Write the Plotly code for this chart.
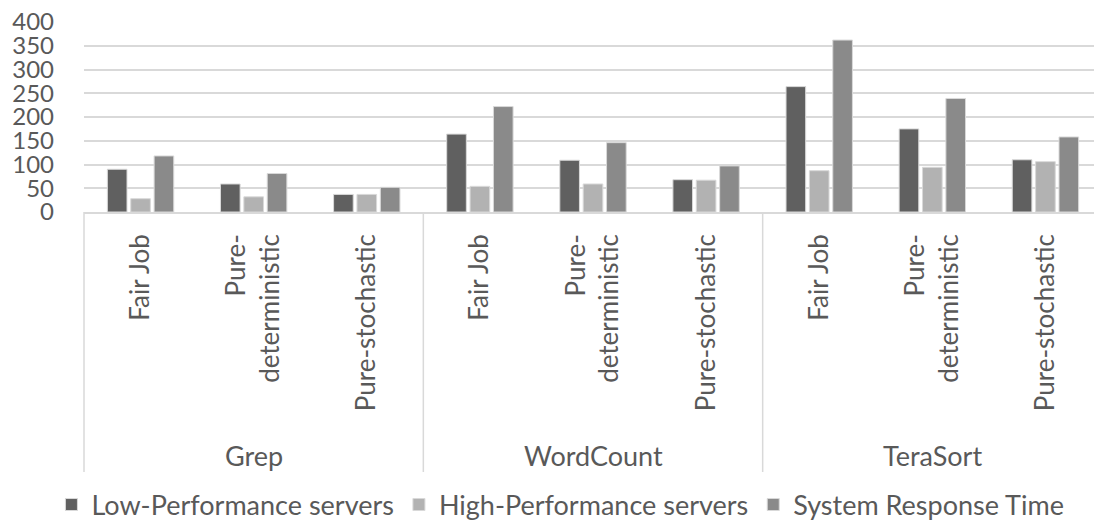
import plotly.graph_objects as go

groups = ["Grep", "WordCount", "TeraSort"]
policies = ["Fair Job", "Pure-<br>deterministic", "Pure-stochastic"]

low_perf = [90, 59, 37, 164, 109, 68, 264, 175, 110]
high_perf = [28, 32, 37, 54, 59, 67, 87, 94, 106]
response = [118, 81, 52, 222, 146, 97, 362, 239, 158]

series_names = ["Low-Performance servers", "High-Performance servers", "System Response Time"]
series_colors = ["#606060", "#b2b2b2", "#8a8a8a"]

n_pol = len(policies)
n_cat = len(groups) * n_pol
x_pos = list(range(n_cat))
x_text = [p for _ in groups for p in policies]

FONT = "Lato"
TXT = "#595959"
GRID = "#d9d9d9"

fig = go.Figure()
for name, vals, col in zip(series_names, [low_perf, high_perf, response], series_colors):
    fig.add_trace(go.Bar(
        x=x_pos, y=vals, name=name,
        marker=dict(color=col, line=dict(color=GRID, width=1)),
    ))

# group labels and dividers under the category axis
for gi, g in enumerate(groups):
    center = gi * n_pol + (n_pol - 1) / 2
    fig.add_annotation(x=center, xref="x", y=0, yref="paper", yanchor="middle",
                       yshift=-243, text=g, showarrow=False,
                       font=dict(family=FONT, size=27, color=TXT))
for gi in range(len(groups) + 1):
    bx = (gi * n_pol) / n_cat
    fig.add_shape(type="line", xref="paper", yref="paper", x0=bx, x1=bx, y0=0, y1=-1.368,
                  line=dict(color=GRID, width=1.5))

fig.update_layout(
    width=1094, height=512,
    margin=dict(l=76, r=0, t=14, b=308, autoexpand=False),
    paper_bgcolor="white", plot_bgcolor="white",
    barmode="group", bargap=0.38, bargroupgap=0.16,
    font=dict(family=FONT, size=27, color=TXT),
    showlegend=True,
    legend=dict(orientation="h", x=0.468, xanchor="center", y=-1.542, yanchor="middle",
                font=dict(family=FONT, size=27, color=TXT), traceorder="normal",
                itemwidth=30),
)
fig.update_yaxes(range=[0, 400], dtick=50, showgrid=True, gridcolor=GRID, gridwidth=1.5,
                 zeroline=False, showline=False, ticks="", ticklabelstandoff=29,
                 ticklabeloverflow="allow", tickfont=dict(size=24), automargin=False)
fig.update_xaxes(range=[-0.5, n_cat - 0.5], tickvals=x_pos, ticktext=x_text, tickangle=-90,
                 showgrid=False, zeroline=False, showline=True, linecolor=GRID, linewidth=1.5,
                 ticks="", tickfont=dict(size=26), ticklabelstandoff=10, automargin=False)

fig.write_html("out.html")
